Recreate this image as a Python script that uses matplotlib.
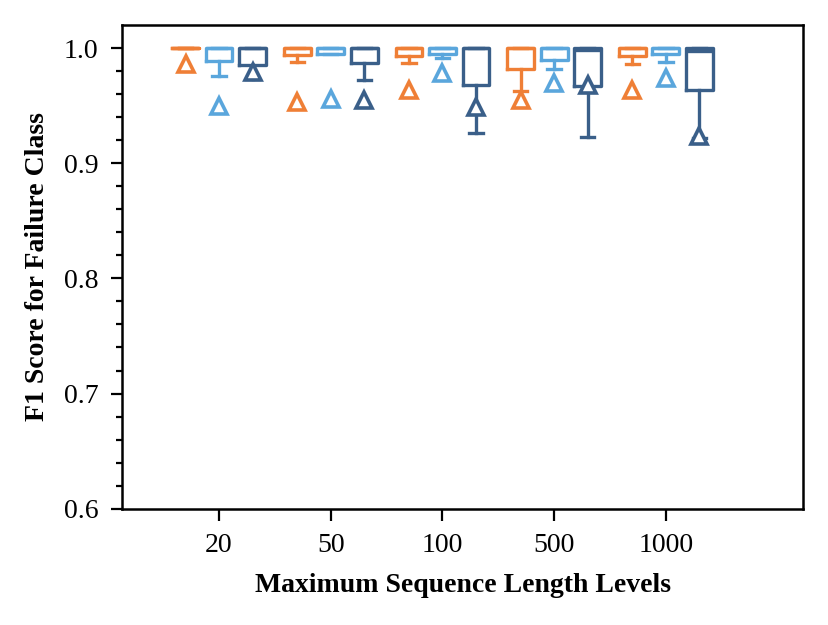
import matplotlib.pyplot as plt
import numpy as np

# sequence length levels and the three compared series (per-box summary stats)
levels = ["20", "50", "100", "500", "1000"]
colors = ["#ef7f36", "#5aa6dc", "#3a5f89"]

# each list: one value per level, for series 0 / 1 / 2
med = [
    [1.000, 1.000, 1.000, 1.000, 1.000],
    [1.000, 1.000, 1.000, 1.000, 1.000],
    [1.000, 1.000, 1.000, 0.998, 0.997],
]
q1 = [
    [1.000, 0.994, 0.993, 0.982, 0.993],
    [0.989, 0.995, 0.995, 0.990, 0.995],
    [0.985, 0.987, 0.968, 0.967, 0.964],
]
q3 = [
    [1.000, 1.000, 1.000, 1.000, 1.000],
    [1.000, 1.000, 1.000, 1.000, 1.000],
    [1.000, 1.000, 1.000, 1.000, 1.000],
]
whislo = [
    [1.000, 0.988, 0.987, 0.963, 0.986],
    [0.976, 0.995, 0.991, 0.982, 0.988],
    [0.973, 0.972, 0.926, 0.923, 0.922],
]
means = [
    [0.986, 0.953, 0.964, 0.955, 0.964],
    [0.950, 0.956, 0.978, 0.970, 0.974],
    [0.979, 0.955, 0.949, 0.968, 0.924],
]

plt.rcParams["font.family"] = ["Liberation Serif", "DejaVu Serif"]
plt.rcParams["font.size"] = 10

fig, ax = plt.subplots(figsize=(4.145, 3.125), dpi=200)
fig.subplots_adjust(left=0.147, right=0.969, bottom=0.186, top=0.96)

offsets = [-0.3, 0.0, 0.3]
for s in range(3):
    stats = []
    for i in range(len(levels)):
        stats.append(dict(
            med=med[s][i], q1=q1[s][i], q3=q3[s][i],
            whislo=whislo[s][i], whishi=q3[s][i],
            mean=means[s][i], fliers=[],
        ))
    pos = np.arange(1, len(levels) + 1) + offsets[s]
    c = colors[s]
    ax.bxp(
        stats, positions=pos, widths=0.24, showmeans=True, showfliers=False,
        boxprops=dict(color=c, linewidth=1.2),
        medianprops=dict(color=c, linewidth=1.2),
        whiskerprops=dict(color=c, linewidth=1.2),
        capprops=dict(color=c, linewidth=1.2),
        meanprops=dict(marker="^", markerfacecolor="white", markeredgecolor=c,
                       markeredgewidth=1.3, markersize=5.5),
    )

ax.set_xlim(0.13, 6.23)
ax.set_ylim(0.6, 1.02)
ax.set_xticks(np.arange(1, len(levels) + 1))
ax.set_xticklabels(levels)
ax.set_yticks([0.6, 0.7, 0.8, 0.9, 1.0])
ax.set_yticks(np.arange(0.62, 1.0, 0.02), minor=True)
ax.tick_params(axis="x", direction="out", length=4.3, width=0.8, pad=4.5)
ax.tick_params(axis="y", direction="out", length=4.0, width=0.8, pad=4.5)
ax.tick_params(axis="y", which="minor", length=2.2, width=0.8)
for sp in ax.spines.values():
    sp.set_linewidth(0.9)

ax.set_xlabel("Maximum Sequence Length Levels", fontweight="bold", labelpad=5.5)
ax.set_ylabel("F1 Score for Failure Class", fontweight="bold", labelpad=5)

plt.savefig("out.png", dpi=200)
plt.close(fig)
